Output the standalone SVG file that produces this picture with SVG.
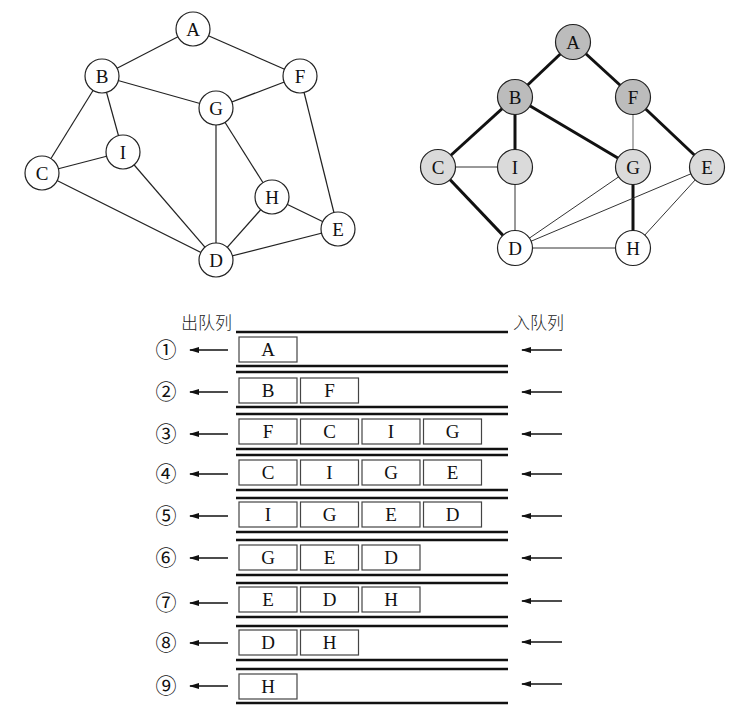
<svg xmlns="http://www.w3.org/2000/svg" width="751" height="727" viewBox="0 0 751 727">
<defs>
<style>
.n circle{stroke:#222;stroke-width:1.2;fill:#fff}
.n text,.q text{font-family:"Liberation Serif","DejaVu Serif",serif;font-size:19px;text-anchor:middle;fill:#111}
.e1 line{stroke:#222;stroke-width:1.2}
.thick{stroke:#111;stroke-width:3}
.thin{stroke:#333;stroke-width:1}
.gray{stroke:#888;stroke-width:1.3}
.dark circle{fill:#bcbcbc}
.light circle{fill:#dadada}
.rail{stroke:#111;stroke-width:2.6}
.q rect{fill:#fff;stroke:#444;stroke-width:1.2}
.arr{stroke:#111;stroke-width:1.3;marker-start:url(#ah)}
.cn{font-family:"Noto Sans CJK SC","Noto Sans CJK JP",sans-serif;font-size:21px;text-anchor:middle;fill:#111}
.hd{font-family:"Noto Sans CJK SC",sans-serif;font-size:17px;font-weight:300;fill:#222}
</style>
<marker id="ah" markerWidth="10" markerHeight="8" refX="1" refY="4" orient="auto" markerUnits="userSpaceOnUse">
<path d="M10,1 L0,4 L10,7 Z" fill="#111"/>
</marker>
</defs>

<!-- Left graph connectors -->
<g id="left-edges" class="e1">
<line x1="193" y1="29" x2="102" y2="76"/>
<line x1="193" y1="29" x2="300" y2="76"/>
<line x1="102" y1="76" x2="216" y2="108"/>
<line x1="216" y1="108" x2="300" y2="76"/>
<line x1="102" y1="76" x2="42" y2="173"/>
<line x1="102" y1="76" x2="123" y2="152"/>
<line x1="42" y1="173" x2="123" y2="152"/>
<line x1="42" y1="173" x2="216" y2="260"/>
<line x1="123" y1="152" x2="216" y2="260"/>
<line x1="216" y1="108" x2="216" y2="260"/>
<line x1="216" y1="108" x2="272" y2="197"/>
<line x1="272" y1="197" x2="216" y2="260"/>
<line x1="272" y1="197" x2="338" y2="229"/>
<line x1="300" y1="76" x2="338" y2="229"/>
<line x1="216" y1="260" x2="338" y2="229"/>
</g>
<g id="L-A" class="n"><circle cx="193" cy="29" r="17"/><text x="193" y="36">A</text></g>
<g id="L-B" class="n"><circle cx="102" cy="76" r="17"/><text x="102" y="83">B</text></g>
<g id="L-F" class="n"><circle cx="300" cy="76" r="17"/><text x="300" y="83">F</text></g>
<g id="L-G" class="n"><circle cx="216" cy="108" r="17"/><text x="216" y="115">G</text></g>
<g id="L-I" class="n"><circle cx="123" cy="152" r="17"/><text x="123" y="159">I</text></g>
<g id="L-C" class="n"><circle cx="42" cy="173" r="17"/><text x="42" y="180">C</text></g>
<g id="L-H" class="n"><circle cx="272" cy="197" r="17"/><text x="272" y="204">H</text></g>
<g id="L-E" class="n"><circle cx="338" cy="229" r="17"/><text x="338" y="236">E</text></g>
<g id="L-D" class="n"><circle cx="216" cy="260" r="17"/><text x="216" y="267">D</text></g>

<!-- Right graph connectors -->
<g id="right-edges">
<line class="thick" x1="573" y1="42" x2="515" y2="97"/>
<line class="thick" x1="573" y1="42" x2="633" y2="97"/>
<line class="thick" x1="515" y1="97" x2="438" y2="167"/>
<line class="thick" x1="515" y1="97" x2="515" y2="167"/>
<line class="thick" x1="515" y1="97" x2="633" y2="167"/>
<line class="thick" x1="633" y1="97" x2="707" y2="167"/>
<line class="thick" x1="438" y1="167" x2="515" y2="248"/>
<line class="thick" x1="633" y1="167" x2="633" y2="248"/>
<line class="gray" x1="633" y1="97" x2="633" y2="167"/>
<line class="thin" x1="438" y1="167" x2="515" y2="167"/>
<line class="thin" x1="515" y1="167" x2="515" y2="248"/>
<line class="thin" x1="633" y1="167" x2="515" y2="248"/>
<line class="thin" x1="707" y1="167" x2="515" y2="248"/>
<line class="thin" x1="515" y1="248" x2="633" y2="248"/>
<line class="thin" x1="707" y1="167" x2="633" y2="248"/>
</g>
<g id="R-A" class="n dark"><circle cx="573" cy="42" r="17.5"/><text x="573" y="49">A</text></g>
<g id="R-B" class="n dark"><circle cx="515" cy="97" r="17.5"/><text x="515" y="104">B</text></g>
<g id="R-F" class="n dark"><circle cx="633" cy="97" r="17.5"/><text x="633" y="104">F</text></g>
<g id="R-C" class="n light"><circle cx="438" cy="167" r="17.5"/><text x="438" y="174">C</text></g>
<g id="R-I" class="n light"><circle cx="515" cy="167" r="17.5"/><text x="515" y="174">I</text></g>
<g id="R-G" class="n light"><circle cx="633" cy="167" r="17.5"/><text x="633" y="174">G</text></g>
<g id="R-E" class="n light"><circle cx="707" cy="167" r="17.5"/><text x="707" y="174">E</text></g>
<g id="R-D" class="n"><circle cx="515" cy="248" r="17.5"/><text x="515" y="255">D</text></g>
<g id="R-H" class="n"><circle cx="633" cy="248" r="17.5"/><text x="633" y="255">H</text></g>

<!-- Queue -->
<g id="queue-headers">
<text class="hd" x="181" y="329">出队列</text>
<text class="hd" x="513" y="329">入队列</text>
</g>
<g id="rails">
<line class="rail" x1="236" y1="332" x2="508" y2="332"/><line class="rail" x1="236" y1="366" x2="508" y2="366"/>
<line class="rail" x1="236" y1="372" x2="508" y2="372"/><line class="rail" x1="236" y1="407" x2="508" y2="407"/>
<line class="rail" x1="236" y1="414" x2="508" y2="414"/><line class="rail" x1="236" y1="449" x2="508" y2="449"/>
<line class="rail" x1="236" y1="455" x2="508" y2="455"/><line class="rail" x1="236" y1="490" x2="508" y2="490"/>
<line class="rail" x1="236" y1="498" x2="508" y2="498"/><line class="rail" x1="236" y1="532" x2="508" y2="532"/>
<line class="rail" x1="236" y1="540" x2="508" y2="540"/><line class="rail" x1="236" y1="575" x2="508" y2="575"/>
<line class="rail" x1="236" y1="583" x2="508" y2="583"/><line class="rail" x1="236" y1="617" x2="508" y2="617"/>
<line class="rail" x1="236" y1="626" x2="508" y2="626"/><line class="rail" x1="236" y1="660" x2="508" y2="660"/>
<line class="rail" x1="236" y1="669" x2="508" y2="669"/><line class="rail" x1="236" y1="703" x2="508" y2="703"/>
</g>
<g id="arrows">
<line class="arr" x1="190" y1="350" x2="228" y2="350"/><line class="arr" x1="522" y1="350" x2="562" y2="350"/>
<line class="arr" x1="190" y1="392" x2="228" y2="392"/><line class="arr" x1="522" y1="392" x2="562" y2="392"/>
<line class="arr" x1="190" y1="434" x2="228" y2="434"/><line class="arr" x1="522" y1="434" x2="562" y2="434"/>
<line class="arr" x1="190" y1="474" x2="228" y2="474"/><line class="arr" x1="522" y1="474" x2="562" y2="474"/>
<line class="arr" x1="190" y1="516" x2="228" y2="516"/><line class="arr" x1="522" y1="516" x2="562" y2="516"/>
<line class="arr" x1="190" y1="558" x2="228" y2="558"/><line class="arr" x1="522" y1="558" x2="562" y2="558"/>
<line class="arr" x1="190" y1="603" x2="228" y2="603"/><line class="arr" x1="522" y1="601" x2="562" y2="601"/>
<line class="arr" x1="190" y1="643" x2="228" y2="643"/><line class="arr" x1="522" y1="642" x2="562" y2="642"/>
<line class="arr" x1="190" y1="686" x2="228" y2="686"/><line class="arr" x1="522" y1="684" x2="562" y2="684"/>
</g>
<g id="row-labels">
<text class="cn" x="166" y="357">①</text>
<text class="cn" x="166" y="399">②</text>
<text class="cn" x="166" y="441">③</text>
<text class="cn" x="166" y="481">④</text>
<text class="cn" x="166" y="523">⑤</text>
<text class="cn" x="166" y="565">⑥</text>
<text class="cn" x="166" y="610">⑦</text>
<text class="cn" x="166" y="650">⑧</text>
<text class="cn" x="166" y="693">⑨</text>
</g>
<g id="row1" class="q">
<rect x="239" y="337" width="58" height="25"/><text x="268" y="356">A</text>
</g>
<g id="row2" class="q">
<rect x="239" y="378" width="58" height="25"/><text x="268" y="397">B</text>
<rect x="300.5" y="378" width="58" height="25"/><text x="329.5" y="397">F</text>
</g>
<g id="row3" class="q">
<rect x="239" y="419" width="58" height="25"/><text x="268" y="438">F</text>
<rect x="300.5" y="419" width="58" height="25"/><text x="329.5" y="438">C</text>
<rect x="362" y="419" width="58" height="25"/><text x="391" y="438">I</text>
<rect x="423.5" y="419" width="58" height="25"/><text x="452.5" y="438">G</text>
</g>
<g id="row4" class="q">
<rect x="239" y="460" width="58" height="25"/><text x="268" y="479">C</text>
<rect x="300.5" y="460" width="58" height="25"/><text x="329.5" y="479">I</text>
<rect x="362" y="460" width="58" height="25"/><text x="391" y="479">G</text>
<rect x="423.5" y="460" width="58" height="25"/><text x="452.5" y="479">E</text>
</g>
<g id="row5" class="q">
<rect x="239" y="502" width="58" height="25"/><text x="268" y="521">I</text>
<rect x="300.5" y="502" width="58" height="25"/><text x="329.5" y="521">G</text>
<rect x="362" y="502" width="58" height="25"/><text x="391" y="521">E</text>
<rect x="423.5" y="502" width="58" height="25"/><text x="452.5" y="521">D</text>
</g>
<g id="row6" class="q">
<rect x="239" y="545" width="58" height="25"/><text x="268" y="564">G</text>
<rect x="300.5" y="545" width="58" height="25"/><text x="329.5" y="564">E</text>
<rect x="362" y="545" width="58" height="25"/><text x="391" y="564">D</text>
</g>
<g id="row7" class="q">
<rect x="239" y="587" width="58" height="25"/><text x="268" y="606">E</text>
<rect x="300.5" y="587" width="58" height="25"/><text x="329.5" y="606">D</text>
<rect x="362" y="587" width="58" height="25"/><text x="391" y="606">H</text>
</g>
<g id="row8" class="q">
<rect x="239" y="630" width="58" height="25"/><text x="268" y="649">D</text>
<rect x="300.5" y="630" width="58" height="25"/><text x="329.5" y="649">H</text>
</g>
<g id="row9" class="q">
<rect x="239" y="674" width="58" height="25"/><text x="268" y="693">H</text>
</g>
</svg>
